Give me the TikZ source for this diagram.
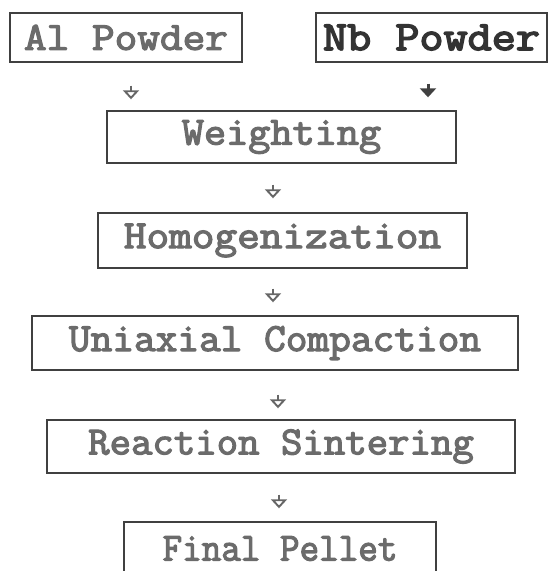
\documentclass[tikz,border=0pt]{standalone}
\usepackage{fontspec}
\newfontfamily\slabfont{Latin Modern Mono}[FakeBold=3]
\newfontfamily\slabfontdark{Latin Modern Mono}[FakeBold=3.5]
\usepackage{graphicx}
\usetikzlibrary{arrows.meta}
\begin{document}
\begin{tikzpicture}[x=1pt,y=-1pt,
  stagebox/.style={draw=black!75, line width=1.4pt, rectangle, inner sep=0pt,
    text=black!58, font=\slabfont\fontsize{40}{44}\selectfont},
  darkbox/.style={stagebox, text=black!80, font=\slabfontdark\fontsize{40}{44}\selectfont},
  arr/.style={draw=black!60, line width=1.9pt, -{Triangle[open, width=16pt, length=9pt]}},
  farr/.style={draw=black!75, line width=3pt, -{Triangle[width=16pt, length=9pt]}}]
\useasboundingbox (0,0) rectangle (548,571);
\node[stagebox, minimum width=232pt, minimum height=49pt] (al) at (126,37.5) {\scalebox{1.10}[1]{Al Powder}};
\node[darkbox, minimum width=231pt, minimum height=49pt] (nb) at (431.5,37.5) {\scalebox{1.17}[1.04]{Nb Powder}};
\node[stagebox, minimum width=349pt, minimum height=52pt] (w) at (281.5,137) {\scalebox{1.075}[1]{Weighting}};
\node[stagebox, minimum width=369pt, minimum height=55pt] (h) at (282.5,240.5) {\scalebox{1.10}[1]{Homogenization}};
\node[stagebox, minimum width=486pt, minimum height=54pt] (u) at (275,343) {\scalebox{1.053}[1]{Uniaxial Compaction}};
\node[stagebox, minimum width=468pt, minimum height=53pt] (r) at (281,446.5) {\scalebox{1.04}[1]{Reaction Sintering}};
\node[stagebox, minimum width=312pt, minimum height=53pt] (f) at (280,548.5) {\scalebox{0.95}[1]{Final Pellet}};
\draw[arr, shorten <=23pt, shorten >=11pt] ([xshift=5pt]al.south) -- ([xshift=5pt]al.south |- w.north);
\draw[farr, shorten <=21pt, shorten >=13pt] ([xshift=-3.5pt]nb.south) -- ([xshift=-3.5pt]nb.south |- w.north);
\draw[arr, shorten <=21pt, shorten >=14pt] ([xshift=-8.5pt]w.south) -- ([xshift=-8.5pt]w.south |- h.north);
\draw[arr, shorten <=20pt, shorten >=13pt] ([xshift=-9.5pt]h.south) -- ([xshift=-9.5pt]h.south |- u.north);
\draw[arr, shorten <=24pt, shorten >=11pt] ([xshift=3pt]u.south) -- ([xshift=3pt]u.south |- r.north);
\draw[arr, shorten <=21pt, shorten >=13pt] ([xshift=-2pt]r.south) -- ([xshift=-2pt]r.south |- f.north);
\end{tikzpicture}
\end{document}
